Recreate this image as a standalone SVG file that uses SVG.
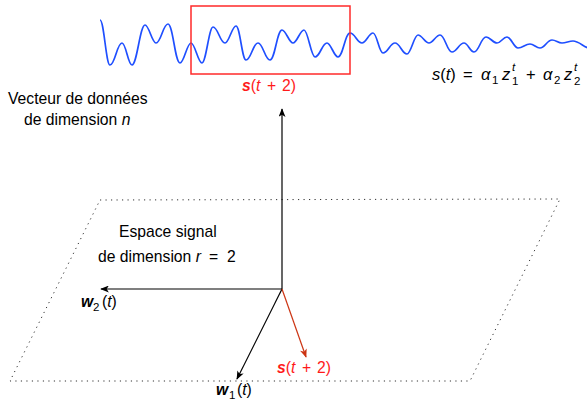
<svg xmlns="http://www.w3.org/2000/svg" width="587" height="400" viewBox="0 0 587 400">
<style>
text{font-family:"Liberation Sans",Arial,sans-serif;font-size:15.7px;fill:#000}
.it{font-style:italic}
.bi{font-style:italic;font-weight:bold}
.sm{font-size:11.5px}
.f{font-size:16.5px}
.red{fill:#ff1a1a}
.ax{stroke:#000;stroke-width:1.2;fill:none}
</style>
<defs>
<marker id="ah" viewBox="0 0 10 8" refX="9" refY="4" markerWidth="9" markerHeight="7" markerUnits="userSpaceOnUse" orient="auto">
<path d="M0,0 L10,4 L0,8 L2.5,4 z" fill="#000"/>
</marker>
<marker id="ahr" viewBox="0 0 10 8" refX="9" refY="4" markerWidth="9" markerHeight="7" markerUnits="userSpaceOnUse" orient="auto">
<path d="M0,0 L10,4 L0,8 L2.5,4 z" fill="#cc3311"/>
</marker>
</defs>
<g id="plane">
<path d="M100,200 L560,199 L470,381 L10,381 Z" fill="none" stroke="#333" stroke-width="1" stroke-dasharray="1.2 4.3"/>
</g>
<g id="signal">
<path fill="none" stroke="#1f4fff" stroke-width="1.7" d="M100,20 C104,20 106,65 110,65 C115,65 117,43 122,43 C126,43 128,65 132,65 C137,65 140,25 145,25 C149,25 152,43 156,43 C161,43 163,24 168,24 C173,24 175,63 180,63 C184,63 187,43 191,43 C195,43 198,63 202,63 C206,63 209,27 213,27 C218,27 220,43 225,43 C229,43 232,26 236,26 C240,26 242,60 246,60 C251,60 253,43 258,43 C263,43 265,60 270,60 C275,60 277,30 282,30 C286,30 289,43 293,43 C297,43 300,30 304,30 C308,30 311,57 315,57 C320,57 322,43 327,43 C331,43 334,57 338,57 C343,57 345,33 350,33 C355,33 357,43 362,43 C366,43 369,33 373,33 C377,33 379,53 383,53 C388,53 390,43 395,43 C400,43 402,54 407,54 C411,54 414,35 418,35 C422,35 425,43 429,43 C433,43 436,35 440,35 C445,35 447,52 452,52 C457,52 459,43 464,43 C468,43 470,52 474,52 C479,52 481,37 486,37 C490,37 493,43 497,43 C501,43 503,37 507,37 C511,37 514,48 518,48 C523,48 525,44 530,44 C534,44 536,48 540,48 C545,48 547,40 552,40 C556,40 558,43 562,43 C566,43 569,41 573,41 C578,41 583,46 588,48"/>
</g>
<g id="window">
<rect x="191" y="6" width="159" height="68" fill="none" stroke="#ff2a2a" stroke-width="1.5"/>
<text y="91" class="red"><tspan x="242" class="bi">s</tspan>(<tspan class="it">t</tspan><tspan x="267">+</tspan><tspan x="282">2)</tspan></text>
</g>
<g id="formula">
<text x="432" y="80" class="f"><tspan class="it">s</tspan>(<tspan class="it">t</tspan>)</text>
<text x="463" y="80" class="f">=</text>
<text x="481" y="80" class="f it">α</text><text x="492" y="84" class="sm">1</text>
<text x="502" y="80" class="f it">z</text><text x="512" y="71" class="sm it">t</text><text x="512" y="85" class="sm">1</text>
<text x="526" y="80" class="f">+</text>
<text x="543" y="80" class="f it">α</text><text x="554" y="84" class="sm">2</text>
<text x="564" y="80" class="f it">z</text><text x="574" y="71" class="sm it">t</text><text x="574" y="85" class="sm">2</text>
</g>
<g id="data-label">
<text x="8" y="104">Vecteur de données</text>
<text x="24" y="125">de dimension <tspan class="it">n</tspan></text>
</g>
<g id="space-label">
<text y="262"><tspan x="98">de dimension </tspan><tspan class="it">r</tspan><tspan x="209">=</tspan><tspan x="227">2</tspan></text>
<text x="119" y="237">Espace signal</text>
</g>
<g id="connectors">
<line class="ax" x1="282" y1="289" x2="282" y2="109" marker-end="url(#ah)"/>
<line class="ax" x1="282" y1="289" x2="101" y2="289" marker-end="url(#ah)"/>
<line class="ax" x1="282" y1="289" x2="237" y2="379" marker-end="url(#ah)"/>
<line x1="282" y1="289" x2="306" y2="357" stroke="#cc3311" stroke-width="1.2" marker-end="url(#ahr)"/>
</g>
<g id="vec-labels">
<text y="307"><tspan x="81" class="bi">w</tspan><tspan x="93" class="sm" dy="4">2</tspan><tspan x="102" dy="-4">(</tspan><tspan class="it">t</tspan>)</text>
<text y="395"><tspan x="216" class="bi">w</tspan><tspan x="229" class="sm" dy="4">1</tspan><tspan x="237" dy="-4">(</tspan><tspan class="it">t</tspan>)</text>
<text y="373" class="red"><tspan x="277" class="bi">s</tspan>(<tspan class="it">t</tspan><tspan x="302">+</tspan><tspan x="317">2)</tspan></text>
</g>
</svg>
